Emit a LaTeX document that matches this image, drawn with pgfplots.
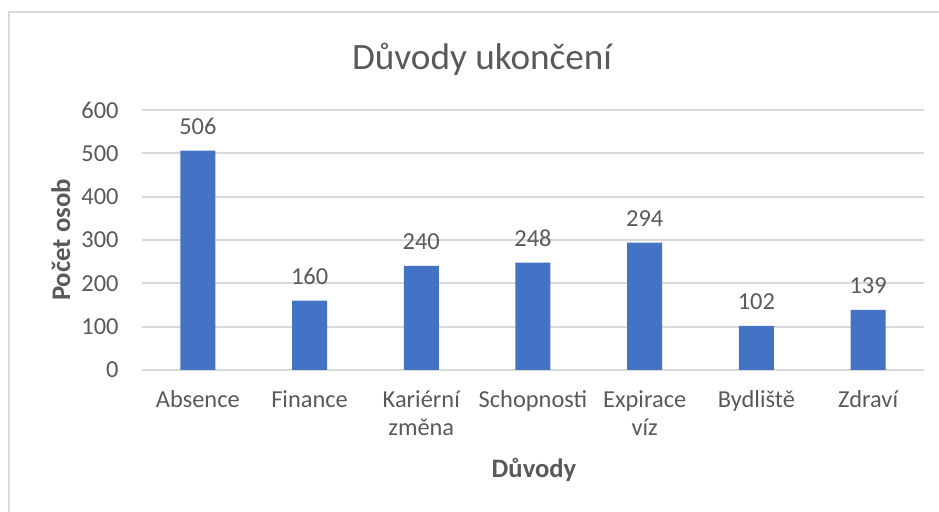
\documentclass[border=0pt]{standalone}
\usepackage{fontspec}
\setmainfont{Carlito}
\usepackage{pgfplots}
\pgfplotsset{compat=1.18}
\definecolor{barblue}{HTML}{4472C4}
\definecolor{txtgray}{HTML}{595959}
\definecolor{gridgray}{HTML}{D9D9D9}
\begin{document}
\begin{tikzpicture}[x=0.5pt,y=0.5pt]
% picture frame (image pixels, y up)
\path[use as bounding box] (0,0) rectangle (939,512);
\draw[gridgray,line width=1pt] (9,0) -- (9,500) -- (939,500);
\begin{axis}[
    at={(71pt,71pt)}, anchor=south west,
    scale only axis,
    width=391pt, height=130pt,
    xmin=-0.5, xmax=6.5,
    ymin=0, ymax=600,
    ytick={0,100,...,600},
    xtick=data,
    xticklabels={Absence,Finance,{Kariérní\\změna},Schopnosti,{Expirace\\víz},Bydliště,Zdraví},
    axis x line*=bottom,
    axis y line*=left,
    y axis line style={draw=none},
    x axis line style={gridgray,line width=1pt},
    major tick length=0pt,
    ymajorgrids,
    grid style={gridgray,line width=1pt},
    tick label style={text=txtgray,font=\fontsize{12.2}{14}\selectfont},
    y tick label style={anchor=east,inner sep=0pt,xshift=-11.5pt},
    x tick label style={anchor=north,inner sep=0pt,align=center,yshift=-10pt},
    /pgf/number format/assume math mode=true,
    ybar, bar width=17.5pt,
    nodes near coords,
    every node near coord/.append style={text=txtgray,font=\fontsize{12.2}{14}\selectfont,anchor=base,inner sep=0pt,yshift=8pt},
    clip=false,
]
\addplot[fill=barblue,draw=none] coordinates {(0,506) (1,160) (2,240) (3,248) (4,294) (5,102) (6,139)};
\end{axis}
\node[anchor=base,text=txtgray,font=\fontsize{18.6}{22}\selectfont] at (482,442) {Důvody ukončení};
\node[anchor=base,rotate=90,text=txtgray,font=\fontsize{13.4}{16}\selectfont\bfseries] at (70,272) {Počet osob};
\node[anchor=base,text=txtgray,font=\fontsize{13.3}{16}\selectfont\bfseries] at (534,34) {Důvody};
\end{tikzpicture}
\end{document}
